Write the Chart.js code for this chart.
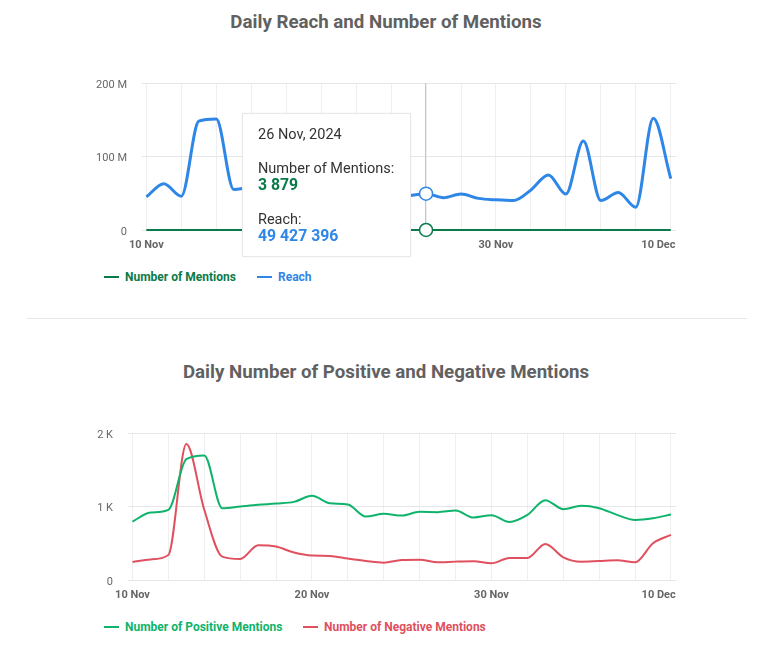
<!DOCTYPE html>
<html lang="en">
<head>
<meta charset="UTF-8">
<title>Daily Reach and Mentions</title>
<script src="https://cdn.jsdelivr.net/npm/chart.js"></script>
<style>
* { margin: 0; padding: 0; box-sizing: border-box; }
html, body { width: 778px; height: 653px; background: #fff; overflow: hidden; font-family: Roboto, sans-serif; }
.title { position: absolute; left: 0; width: 772px; text-align: center; font-size: 18.7px; font-weight: 700; color: #616161; line-height: 24px; }
.wrap { position: absolute; left: 0; width: 676px; }
.divider { position: absolute; left: 27px; top: 318px; width: 720px; height: 1px; background: #e6e6e6; }
.legend { position: absolute; font-size: 12px; font-weight: 700; line-height: 16px; white-space: nowrap; }
.legend i { position: absolute; top: 7px; width: 15px; height: 2px; }
.tip { position: absolute; left: 242px; top: 113px; width: 169px; height: 144px; background: #fff; border: 1px solid #e8e8e8; box-shadow: 0 0 2px rgba(0,0,0,.05); color: #333; }
.tip div { position: absolute; left: 15px; white-space: nowrap; font-size: 14.5px; line-height: 18px; }
.tip .val { font-size: 15.8px; font-weight: 700; }
</style>
</head>
<body>
<div class="title" style="top:10px">Daily Reach and Number of Mentions</div>
<div class="wrap" style="top:70px;height:190px"><canvas id="reachChart" width="676" height="190"></canvas></div>
<div id="legend1"></div>
<div class="tip" id="tip"></div>
<div class="divider"></div>
<div class="title" style="top:360px">Daily Number of Positive and Negative Mentions</div>
<div class="wrap" style="top:420px;height:190px"><canvas id="sentimentChart" width="676" height="190"></canvas></div>
<div id="legend2"></div>

<script>
const days = ['10 Nov','11 Nov','12 Nov','13 Nov','14 Nov','15 Nov','16 Nov','17 Nov','18 Nov','19 Nov','20 Nov',
  '21 Nov','22 Nov','23 Nov','24 Nov','25 Nov','26 Nov','27 Nov','28 Nov','29 Nov','30 Nov',
  '1 Dec','2 Dec','3 Dec','4 Dec','5 Dec','6 Dec','7 Dec','8 Dec','9 Dec','10 Dec'];
const reachTicks = [0, 100000000, 200000000];
const sentimentTicks = [0, 1000, 2000];
const gridDays = [0,2,4,6,8,10,12,14,16,18,20,22,24,26,28,30];
const labelledDays = [0,10,20,30];

const reach = [45000000,63000000,46000000,148000000,151000000,55000000,58000000,56000000,54000000,57000000,55000000,
  52000000,50000000,49000000,48000000,47000000,49427396,44000000,49000000,43000000,41000000,
  40000000,54500000,75000000,49000000,121000000,40000000,51000000,31000000,152000000,70000000];
const mentions = [3100,3400,3500,6200,6400,3900,3700,4000,3900,3800,3900,
  3800,3700,3500,3500,3600,3879,3600,3700,3600,3500,
  3400,3600,4400,3800,3900,3700,3600,3400,3700,4100];
const positive = [795,918,955,1645,1695,977,1000,1023,1040,1063,1145,
  1045,1027,864,900,877,927,923,945,850,882,
  790,886,1086,964,1009,977,886,818,840,890];
const negative = [245,280,340,1850,955,318,286,473,455,373,332,
  327,291,259,236,273,277,241,250,255,227,
  300,300,491,309,250,259,268,241,500,614];

const hoverDay = 16;
const tipDate = '26 Nov, 2024';
const colors = { mentions: '#0a7a48', reach: '#2e86e6', positive: '#0fb36b', negative: '#e0505e' };

const fmt = v => String(v).replace(/\B(?=(\d{3})+(?!\d))/g, ' ');
const xy = arr => arr.map((v, i) => ({ x: i, y: v }));

// last label sits left of its gridline in the original, trailing spaces push it over
const xLabel = v => {
  if (!labelledDays.includes(v)) return '';
  return v === 30 ? days[v] + ' '.repeat(9) : days[v];
};

const crosshair = {
  id: 'crosshair',
  beforeDatasetsDraw(chart) {
    const { ctx, scales: { x, y } } = chart;
    const px = Math.round(x.getPixelForValue(hoverDay)) - 0.5;
    ctx.save();
    ctx.strokeStyle = '#c2c4cc';
    ctx.lineWidth = 1;
    ctx.beginPath();
    ctx.moveTo(px, y.top);
    ctx.lineTo(px, y.bottom);
    ctx.stroke();
    ctx.restore();
  }
};

function makeChart(id, series, yTicks, yLabel, yAxisWidth, xMax, showHover) {
  return new Chart(document.getElementById(id), {
    type: 'line',
    data: {
      datasets: series.map(s => ({
        label: s.label,
        data: xy(s.values),
        borderColor: s.color,
        borderWidth: s.width,
        cubicInterpolationMode: 'monotone',
        clip: false,
        pointRadius: c => (showHover && c.dataIndex === hoverDay ? 6.5 : 0),
        pointBackgroundColor: '#fff',
        pointBorderColor: s.color,
        pointBorderWidth: 1.5
      }))
    },
    options: {
      responsive: false,
      animation: false,
      events: [],
      layout: { padding: { top: 13, left: 0, right: 0, bottom: 0 } },
      plugins: { legend: { display: false }, tooltip: { enabled: false } },
      scales: {
        x: {
          type: 'linear',
          min: -0.25,
          max: xMax,
          afterBuildTicks: s => { s.ticks = gridDays.map(v => ({ value: v })); },
          afterFit: s => { s.height = 30; s.paddingLeft = 0; s.paddingRight = 0; },
          grid: { color: '#efefef', drawTicks: false },
          border: { display: false },
          ticks: {
            autoSkip: false,
            maxRotation: 0,
            padding: 9,
            color: '#666',
            font: { family: 'Roboto', size: 11, weight: '700' },
            callback: xLabel
          }
        },
        y: {
          min: 0,
          max: yTicks[yTicks.length - 1],
          afterBuildTicks: s => { s.ticks = yTicks.map(v => ({ value: v })); },
          afterFit: s => { s.width = yAxisWidth; s.paddingTop = 0; s.paddingBottom = 0; },
          grid: { color: '#e6e6e6', tickLength: 0 },
          border: { display: false },
          ticks: {
            padding: 15,
            labelOffset: 2,
            color: '#666',
            font: { family: 'Roboto', size: 11 },
            callback: yLabel
          }
        }
      }
    },
    plugins: showHover ? [crosshair] : []
  });
}

makeChart('reachChart',
  [{ label: 'Reach', values: reach, color: colors.reach, width: 3 },
   { label: 'Number of Mentions', values: mentions, color: colors.mentions, width: 2 }],
  reachTicks, v => (v === 0 ? '0' : v / 1000000 + ' M'), 142, 30.3, true);

makeChart('sentimentChart',
  [{ label: 'Number of Positive Mentions', values: positive, color: colors.positive, width: 2 },
   { label: 'Number of Negative Mentions', values: negative, color: colors.negative, width: 2 }],
  sentimentTicks, v => (v === 0 ? '0' : v / 1000 + ' K'), 128, 30.28, false);

function addLegend(hostId, top, items) {
  const host = document.getElementById(hostId);
  items.forEach(it => {
    const el = document.createElement('div');
    el.className = 'legend';
    el.style.cssText = `left:${it.left}px;top:${top}px;padding-left:21px;color:${it.color}`;
    el.innerHTML = `<i style="left:0;background:${it.color}"></i>${it.text}`;
    host.appendChild(el);
  });
}
addLegend('legend1', 269, [
  { left: 104, color: colors.mentions, text: 'Number of Mentions' },
  { left: 257, color: colors.reach, text: 'Reach' }
]);
addLegend('legend2', 619, [
  { left: 104, color: colors.positive, text: 'Number of Positive Mentions' },
  { left: 303, color: colors.negative, text: 'Number of Negative Mentions' }
]);

document.getElementById('tip').innerHTML =
  `<div style="top:12px">${tipDate}</div>` +
  `<div style="top:46px">Number of Mentions:</div>` +
  `<div class="val" style="top:62px;color:${colors.mentions}">${fmt(mentions[hoverDay])}</div>` +
  `<div style="top:97px">Reach:</div>` +
  `<div class="val" style="top:113px;color:${colors.reach}">${fmt(reach[hoverDay])}</div>`;
</script>
</body>
</html>
